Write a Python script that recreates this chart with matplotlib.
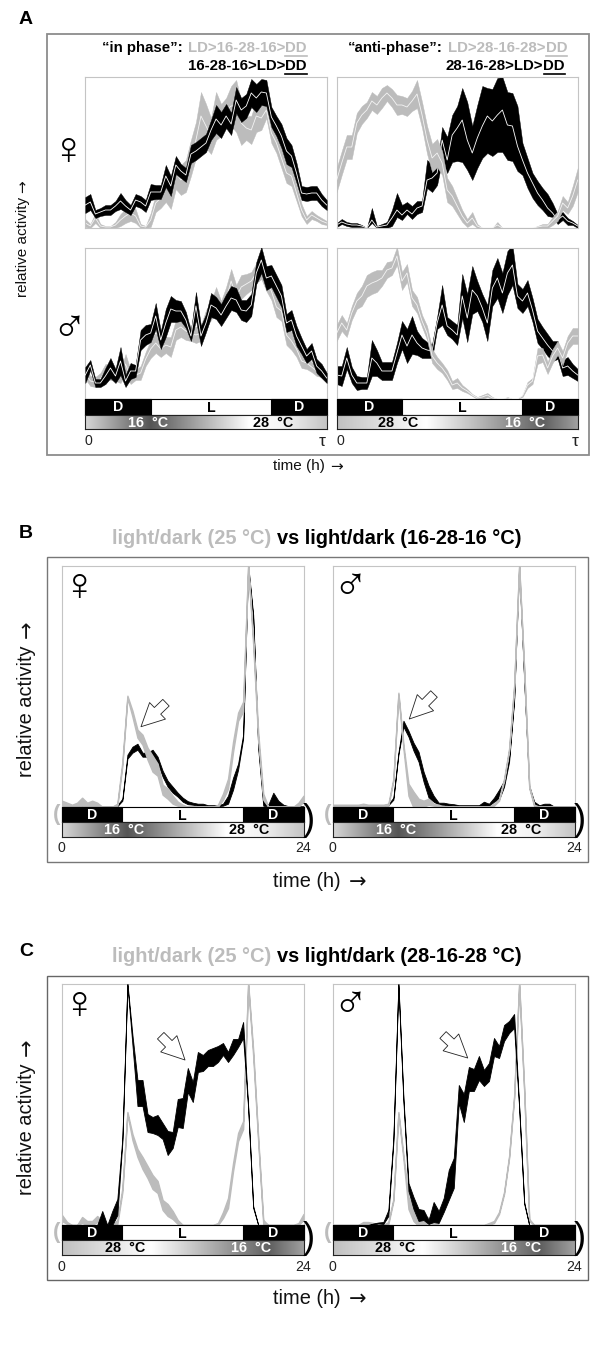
import matplotlib
matplotlib.use('Agg')
import matplotlib.pyplot as plt
from matplotlib.colors import LinearSegmentedColormap
from matplotlib.patches import Rectangle, FancyArrowPatch
from matplotlib.lines import Line2D
import numpy as np

plt.rcParams['font.family'] = ['Liberation Sans', 'DejaVu Sans']

W, H = 600, 1356
GRAY = '#bcbcbc'
BIN = np.arange(49)
SYMBOL_FONT = ['Liberation Sans', 'DejaVu Sans']

## panel A, in phase, female
af_in_gray = [5,2,10,2,1,1,3,8,12,15,12,2,1,8,25,30,42,33,55,48,52,70,88,112,102,92,112,108,118,122,122,105,100,98,112,110,118,95,85,70,55,52,35,18,8,13,10,7,5]
af_in_gray_sd = [4,2,5,2,1,1,3,6,7,8,7,2,1,7,9,10,16,14,16,15,16,18,18,24,22,18,24,16,12,20,26,22,12,14,16,12,8,10,10,10,10,10,8,6,4,4,3,3,2]
af_in_black = [23,26,14,16,18,18,22,27,22,18,28,26,22,36,36,36,52,42,63,57,53,74,77,81,85,98,109,103,112,104,128,118,122,135,130,136,135,111,102,92,77,72,55,35,34,35,35,28,23]
af_in_black_sd = [8,8,4,4,5,5,5,8,6,5,6,6,6,8,7,7,11,10,9,7,7,9,9,9,9,10,14,13,12,11,13,12,12,14,14,13,13,10,10,12,13,11,10,7,7,7,7,6,5]

## panel A, anti-phase, female
af_anti_gray = [48,65,81,81,105,113,118,127,123,130,135,130,123,123,121,127,134,113,88,70,75,65,38,32,22,12,5,10,2,0,0,0,3,0,0,0,0,0,0,0,1,2,2,7,12,25,20,32,48]
af_anti_gray_sd = [12,12,12,12,10,9,8,9,9,10,8,9,10,9,9,10,14,13,14,14,14,12,12,10,8,6,4,6,2,0,0,0,3,0,0,0,0,0,0,0,1,2,2,4,5,7,6,10,12]
af_anti_black = [3,6,4,3,3,2,0,8,1,2,3,10,18,13,18,14,20,22,48,50,55,88,68,93,100,108,88,75,90,102,112,107,113,118,103,102,82,68,55,45,35,28,20,15,8,12,7,5,2]
af_anti_black_up = [2,3,2,2,2,1,0,12,1,2,3,8,17,10,8,8,7,5,20,14,8,13,23,20,22,32,38,27,33,40,28,32,37,33,33,33,40,17,15,10,12,12,14,10,6,4,3,2,1]
af_anti_black_lo = [2,2,2,2,2,1,0,3,1,2,3,8,7,5,4,5,6,6,8,14,12,20,13,27,33,42,30,27,30,32,37,35,37,42,35,35,25,15,15,15,12,10,8,4,4,4,4,2,2]

## panel A, in phase, male
am_in_gray = [26,18,17,20,28,26,24,22,35,22,24,26,40,50,56,50,54,52,69,72,68,66,64,66,80,88,100,88,100,118,102,112,115,118,126,132,118,108,92,88,64,58,50,38,36,32,28,26,24]
am_in_gray_sd = [6,5,5,6,7,7,6,6,10,7,5,7,7,9,10,8,8,10,10,10,9,8,8,8,9,9,12,10,12,12,12,12,10,9,10,12,10,9,10,10,10,9,8,7,6,5,5,4,4]
am_in_black = [24,34,16,16,23,31,23,38,18,28,28,59,64,66,83,59,76,90,88,88,79,63,93,63,76,94,91,84,93,101,99,89,88,94,126,139,121,123,113,103,76,79,63,53,43,48,33,28,21]
am_in_black_sd = [8,5,4,4,8,10,7,14,6,8,6,10,10,9,13,9,14,13,11,10,8,5,14,10,9,12,11,11,12,12,12,10,11,11,11,13,12,11,11,11,9,10,10,8,7,8,7,7,5]

## panel A, anti-phase, male
am_anti_gray = [66,76,69,86,98,103,113,116,118,121,129,131,143,118,126,101,94,78,66,43,36,31,24,14,16,11,8,4,1,2,4,1,0,0,1,0,0,3,14,18,43,44,31,43,51,41,56,63,63]
am_anti_gray_sd = [8,8,7,7,8,10,11,11,11,8,8,7,9,9,9,8,8,6,7,7,6,5,5,4,5,3,2,1,1,2,2,1,0,0,1,0,0,1,3,3,8,7,6,7,7,7,7,8,8]
am_anti_black = [24,23,41,24,16,16,16,41,36,28,28,28,46,64,53,64,56,51,49,48,76,94,73,69,64,103,81,109,103,91,76,111,121,106,126,134,103,98,106,89,68,61,54,48,49,31,33,28,24]
am_anti_black_sd = [9,10,11,8,7,6,6,18,13,9,9,9,10,14,17,19,12,10,8,7,6,20,9,9,10,22,24,24,15,14,18,18,20,20,22,20,12,12,13,12,12,11,11,10,9,8,9,7,6]

## panel B, female
bf_gray = [3,2,1,2,5,2,3,2,0,0,0,2,43,110,93,73,67,53,43,37,17,13,7,3,1,0,0,0,0,0,0,1,10,23,60,90,100,241,165,70,10,0,0,0,0,0,0,2,8]
bf_gray_sd = [3,2,1,2,4,2,3,2,0,0,0,1,2,1,3,4,5,6,8,6,5,5,4,2,1,0,0,0,0,0,0,1,3,5,5,4,5,1,3,4,3,0,0,0,0,0,0,2,3]
bf_black = [0,0,0,0,0,0,0,0,0,0,0,1,7,50,57,60,52,52,54,47,33,23,17,12,7,4,3,2,2,1,1,1,2,7,23,40,70,241,190,60,3,1,7,3,1,0,0,0,0]
bf_black_sd = [.5,.5,.5,.5,.5,.5,.5,.5,.5,.5,.5,.5,1,2,3,3,2,2,3,3,3,3,3,2,2,1.5,1,1,1,.5,.5,.5,1,4,6,3,2,1,2,2,2,1,7,3,1,.5,.5,.5,.5]

## panel B, male
bm_gray = [1,1,1,1,1,1,2,1,1,1,1,2,27,113,60,17,7,3,3,5,2,1,0,0,0,0,0,0,0,0,0,0,2,7,27,57,120,241,137,20,1,0,0,0,0,0,0,0,0]
bm_gray_sd = [1,1,1,1,1,1,1,1,1,1,1,1,1,1,2,6,8,5,3,3,1,1,0,0,0,0,0,0,0,0,0,0,1,1,1,1,1,1,1,1,1,0,0,0,0,0,0,0,0]
bm_black = [1,1,1,1,1,1,1,1,1,1,1,2,8,53,83,73,60,50,30,15,8,3,3,2,2,1,1,1,1,1,3,2,7,12,23,47,107,241,127,20,3,1,2,2,0,0,0,0,0]
bm_black_sd = [.5,.5,.5,.5,.5,.5,.5,.5,.5,.5,.5,.5,1,1,3,3,4,5,5,6,3,1,1,1,.5,.5,.5,.5,.5,.5,2,1,2,5,3,2,1,1,1,1,2,.5,1,1,0,0,0,0,0]

## panel C, female
cf_gray = [7,2,0,0,5,2,2,6,2,0,0,3,35,112,88,72,62,53,43,38,20,15,10,3,0,0,0,0,0,0,0,1,10,22,58,88,100,241,172,85,3,0,0,0,0,0,0,1,8]
cf_gray_sd = [3,1,0,0,3,2,2,3,2,0,0,2,2,1,3,4,6,6,7,6,5,6,4,2,0,0,0,0,0,0,0,1,3,5,4,4,4,1,3,2,2,0,0,0,0,0,0,1,3]
cf_black = [0,0,0,0,0,0,0,0,7,0,7,18,85,241,185,132,132,102,100,100,94,82,85,112,112,145,133,163,162,167,168,171,176,168,178,182,195,118,18,0,0,0,0,0,0,0,0,0,0]
cf_black_sd = [0,0,0,0,0,0,0,0,7,0,7,8,2,1,5,13,13,9,8,10,8,12,8,14,15,12,10,10,8,8,9,8,6,5,8,4,8,1,1,0,0,0,0,0,0,0,0,0,0]

## panel C, male
cm_gray = [0,0,0,0,0,0,2,2,1,0,0,2,25,112,68,22,10,3,3,5,2,0,0,0,0,0,0,0,0,0,0,1,3,12,32,68,128,241,135,5,0,0,0,0,0,0,0,0,0]
cm_gray_sd = [0,0,0,0,0,0,1,1,1,0,0,1,1,1,2,6,6,4,3,3,1,0,0,0,0,0,0,0,0,0,0,1,1,1,1,1,1,1,1,1,0,0,0,0,0,0,0,0,0]
cm_black = [0,0,0,0,0,0,0,0,1,2,2,12,85,241,125,38,22,10,10,3,13,8,20,40,52,131,117,146,145,157,147,153,178,173,192,198,204,118,22,0,0,0,0,0,0,0,0,0,0]
cm_black_sd = [0,0,0,0,0,0,0,0,.5,.5,1,3,2,1,2,4,6,6,5,2,10,6,7,15,15,9,14,12,11,12,8,9,9,6,8,6,7,1,1,0,0,0,0,0,0,0,0,0,0]

## light regime and temperature ramps
lights_a = [13, 37]
lights_bc = [12, 36]
ramp_16_28 = [(0, '#d6d6d6'), (.27, '#555555'), (.68, '#ffffff'), (.82, '#f4f4f4'), (1, '#c4c4c4')]
ramp_28_16 = [(0, '#c0c0c0'), (.37, '#ffffff'), (.86, '#606060'), (1, '#a0a0a0')]

fig = plt.figure(figsize=(W / 100, H / 100), dpi=100)
fig.patch.set_facecolor('white')
renderer = fig.canvas.get_renderer()


def px_axes(x0, y0, x1, y1):
    return fig.add_axes([x0 / W, 1 - y1 / H, (x1 - x0) / W, (y1 - y0) / H])


def put(x, y, s, **kw):
    kw.setdefault('ha', 'center')
    kw.setdefault('va', 'center')
    return fig.text(x / W, 1 - y / H, s, **kw)


def band(ax, mean, up, lo=None, color='black', line=None, z=2, edge=0.3):
    mean = np.array(mean, dtype=float)
    up = np.array(up, dtype=float)
    lo = up if lo is None else np.array(lo, dtype=float)
    ax.fill_between(BIN, mean - lo, mean + up, color=color, lw=edge, zorder=z)
    if line:
        ax.plot(BIN, mean, color=line, lw=0.6, zorder=z + 0.1)


def box(x0, y0, x1, y1, color, lw):
    fig.add_artist(Rectangle((x0 / W, 1 - y1 / H), (x1 - x0) / W, (y1 - y0) / H,
                             transform=fig.transFigure, fc='none', ec=color, lw=lw))


def plot_axes(x0, y0, x1, y1, top):
    ax = px_axes(x0, y0, x1, y1)
    ax.set_xlim(0, 48)
    ax.set_ylim(0, top)
    ax.set_xticks([])
    ax.set_yticks([])
    for s in ax.spines.values():
        s.set_color('#c4c4c4')
        s.set_linewidth(0.8)
    return ax


def regime(x0, x1, y0, ym, y1, lights, ramp, temp_labels):
    ## the black/white light bar with the temperature gradient below it
    ax = px_axes(x0, y0, x1, ym)
    ax.set_xlim(0, 48)
    ax.set_ylim(0, 1)
    ax.axis('off')
    ax.add_patch(Rectangle((0, 0), 48, 1, fc='white', ec='black', lw=0.8, clip_on=False))
    ax.add_patch(Rectangle((0, 0), lights[0], 1, fc='black', ec='black', lw=0.8, clip_on=False))
    ax.add_patch(Rectangle((lights[1], 0), 48 - lights[1], 1, fc='black', ec='black', lw=0.8, clip_on=False))
    fs = 10.2
    ax.text(lights[0] / 2, 0.47, 'D', color='white', fontsize=fs, fontweight='bold', ha='center', va='center')
    ax.text(sum(lights) / 2, 0.42, 'L', color='black', fontsize=fs, fontweight='bold', ha='center', va='center')
    ax.text((lights[1] + 48) / 2, 0.47, 'D', color='white', fontsize=fs, fontweight='bold', ha='center', va='center')

    ax = px_axes(x0, ym, x1, y1)
    cmap = LinearSegmentedColormap.from_list('ramp', ramp)
    ax.imshow(np.linspace(0, 1, 256)[None, :], cmap=cmap, aspect='auto', extent=[0, 48, 0, 1])
    ax.set_xticks([])
    ax.set_yticks([])
    for s in ax.spines.values():
        s.set_color('#222222')
        s.set_linewidth(0.8)
    for (tx, label, col) in temp_labels:
        put(tx, (ym + y1) / 2 + 0.5, label, color=col, fontsize=10.4, fontweight='bold')


def text_row(x, y, pieces, size):
    ## several colours on a line, each piece placed after the one before it
    for (s, col, under) in pieces:
        t = put(x, y, s, ha='left', color=col, fontsize=size, fontweight='bold')
        bb = t.get_window_extent(renderer)
        if under:
            fig.add_artist(Line2D([bb.x0 / W, bb.x1 / W], [1 - (y + 7.5) / H] * 2,
                                  transform=fig.transFigure, color=col, lw=1.2))
        x = bb.x1


def hollow_arrow(x0, y0, x1, y1):
    fig.add_artist(FancyArrowPatch((x0 / W, 1 - y0 / H), (x1 / W, 1 - y1 / H),
                                   transform=fig.transFigure, fc='white', ec='#222222', lw=0.6,
                                   arrowstyle='simple,head_length=1.5,head_width=1.5,tail_width=0.6',
                                   mutation_scale=11, shrinkA=0, shrinkB=0))


def ylabel_at(x, y_bottom, y_arrow, size, arrow_size):
    put(x, y_bottom, 'relative activity', fontsize=size, rotation=90, va='bottom', color='#111111')
    put(x + 0.5, y_arrow, '\u2192', fontsize=arrow_size, rotation=90, color='#111111', family=['DejaVu Sans'])


def xlabel_at(x_left, y, x_arrow, size, arrow_size):
    put(x_left, y, 'time (h)', fontsize=size, ha='left', color='#111111')
    put(x_arrow, y + 0.5, '\u2192', fontsize=arrow_size, color='#111111', family=['DejaVu Sans'])


## outer frames
box(47, 34, 589, 455.5, '#8c8c8c', 1.3)
box(47, 557, 588, 861.5, '#777777', 1.0)
box(47, 975.5, 588, 1280, '#666666', 1.0)

## panel letters
put(26, 19, 'A', fontsize=14, fontweight='bold')
put(26, 533, 'B', fontsize=14, fontweight='bold')
put(26, 952, 'C', fontsize=14, fontweight='bold')

## panel A
text_row(102, 48, [('\u201cin phase\u201d:', 'black', False)], 10.85)
text_row(187.7, 48, [('LD>16-28-16>', GRAY, False), ('DD', GRAY, True)], 10.85)
text_row(187.7, 66, [('16-28-16>LD>', 'black', False), ('DD', 'black', True)], 10.85)
text_row(348.3, 48, [('\u201canti-phase\u201d:', 'black', False)], 10.85)
text_row(448.3, 48, [('LD>28-16-28>', GRAY, False), ('DD', GRAY, True)], 10.85)
text_row(446, 66, [('28-16-28>LD>', 'black', False), ('DD', 'black', True)], 10.85)

ax = plot_axes(85.3, 77, 326.7, 228, 151)
band(ax, af_in_gray, af_in_gray_sd, color=GRAY, line='#f4f4f4', z=2)
band(ax, af_in_black, af_in_black_sd, color='black', line='white', z=3)

ax = plot_axes(336.7, 77, 577.7, 228, 151)
band(ax, af_anti_black, af_anti_black_up, af_anti_black_lo, color='black', line='white', z=2)
band(ax, af_anti_gray, af_anti_gray_sd, color=GRAY, line='#f4f4f4', z=3)

ax = plot_axes(85.3, 248, 326.7, 399, 151)
band(ax, am_in_gray, am_in_gray_sd, color=GRAY, line='#f4f4f4', z=2)
band(ax, am_in_black, am_in_black_sd, color='black', line='white', z=3)

ax = plot_axes(336.7, 248, 577.7, 399, 151)
band(ax, am_anti_black, am_anti_black_sd, color='black', line='white', z=2)
band(ax, am_anti_gray, am_anti_gray_sd, color=GRAY, line='#f4f4f4', z=3)

regime(85.3, 326.7, 399, 415, 429.5, lights_a, ramp_16_28,
       [(148, '16  \u00b0C', 'white'), (273, '28  \u00b0C', 'black')])
regime(336.7, 577.7, 399, 415, 429.5, lights_a, ramp_28_16,
       [(398, '28  \u00b0C', 'black'), (525, '16  \u00b0C', 'white')])

put(88, 441, '0', fontsize=10.2, color='#222222')
put(322.5, 441, '\u03c4', fontsize=12.5, color='#222222')
put(340, 441, '0', fontsize=10.2, color='#222222')
put(575, 441, '\u03c4', fontsize=12.5, color='#222222')
put(68, 152, '\u2640', fontsize=34, color='black', family=SYMBOL_FONT)
put(69, 330, '\u2642', fontsize=34, color='black', family=SYMBOL_FONT)
ylabel_at(23, 297, 186.5, 11, 11)
xlabel_at(273, 466, 336.5, 11, 11)

## panels B and C
for (y_title, range_txt, top, base, bar_mid, bar_end, ylab_bottom, ylab_arrow, xlab_y, tick_y, ramp, temps_f, temps_m, sets, arrows) in [
    (538, '(16-28-16 \u00b0C)', 565.7, 806.7, 822.3, 836.7, 777, 629, 881.5, 848, ramp_16_28,
     [(124, '16  \u00b0C', 'white'), (249, '28  \u00b0C', 'black')],
     [(396, '16  \u00b0C', 'white'), (521, '28  \u00b0C', 'black')],
     [(bf_gray, bf_gray_sd, bf_black, bf_black_sd), (bm_gray, bm_gray_sd, bm_black, bm_black_sd)],
     [(166, 702.7, 141, 726.7), (434, 694, 409.3, 719)]),
    (957, '(28-16-28 \u00b0C)', 984.3, 1225, 1240, 1255, 1195, 1047, 1299, 1267, ramp_28_16,
     [(125, '28  \u00b0C', 'black'), (251, '16  \u00b0C', 'white')],
     [(395, '28  \u00b0C', 'black'), (521, '16  \u00b0C', 'white')],
     [(cf_gray, cf_gray_sd, cf_black, cf_black_sd), (cm_gray, cm_gray_sd, cm_black, cm_black_sd)],
     [(160.7, 1035.7, 185, 1060), (443, 1035, 467.7, 1058)]),
]:
    text_row(112, y_title, [('light/dark (25 \u00b0C)', GRAY, False)], 14.4)
    text_row(276.7, y_title, [('vs light/dark ' + range_txt, 'black', False)], 14.4)
    height = base - top
    for k, (x0, x1) in enumerate([(62, 303.5), (333, 574.5)]):
        g, gs, b, bs = sets[k]
        ax = plot_axes(x0, top, x1, base, height)
        ## in B grey lies over black where they cross, in C black lies over grey
        gz, bz = (3, 2) if y_title == 538 else (2, 3)
        band(ax, b, bs, color='black', z=bz, edge=0.6)
        band(ax, g, gs, color=GRAY, z=gz, edge=1.0)
        regime(x0, x1, base, bar_mid, bar_end, lights_bc, ramp, temps_f if k == 0 else temps_m)
        put(x0 - 5, (base + bar_mid) / 2, '(', color=GRAY, fontsize=16, fontweight='bold')
        put(x1 + 5, (bar_mid + base) / 2 + 6, ')', color='black', fontsize=26)
        put(x0 - 0.5, tick_y, '0', fontsize=10.2, color='#222222')
        put(x1, tick_y, '24', fontsize=10.2, color='#222222')
        put(x0 + 17, top + 22, '\u2640' if k == 0 else '\u2642', fontsize=34, color='black', family=SYMBOL_FONT)
        hollow_arrow(*arrows[k])
    ylabel_at(27, ylab_bottom, ylab_arrow, 14.4, 15)
    xlabel_at(273, xlab_y, 357.5, 14.4, 15)

fig.savefig('out.png', dpi=100)
